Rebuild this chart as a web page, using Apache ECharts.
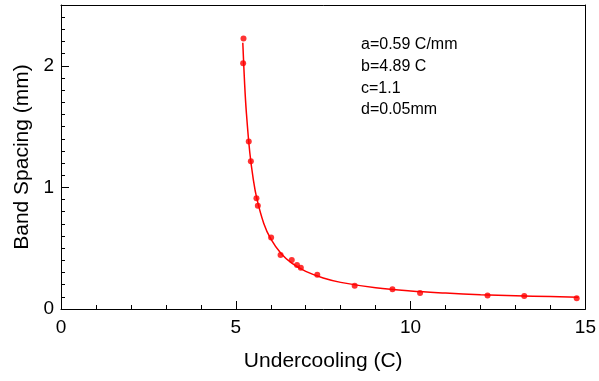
<!DOCTYPE html>
<html><head><meta charset="utf-8">
<script src="https://cdn.jsdelivr.net/npm/echarts@6/dist/echarts.min.js"></script>
<style>html,body{margin:0;padding:0;background:#fff}#c{width:599px;height:381px}</style>
</head><body><div id="c"></div>
<script>
// measured data points (Undercooling C, Band spacing mm)
var pointX = [5.22, 5.21, 5.37, 5.43, 5.59, 5.63, 6.01, 6.28, 6.60, 6.75, 6.86, 7.33, 8.40, 9.48, 10.27, 12.20, 13.25, 14.75];
var pointY = [2.225, 2.02, 1.377, 1.216, 0.911, 0.850, 0.587, 0.444, 0.403, 0.362, 0.340, 0.282, 0.192, 0.162, 0.132, 0.110, 0.107, 0.088];
// fitted curve
var curveX = [5.2, 5.25, 5.3, 5.4, 5.5, 5.6, 5.8, 6.0, 6.3, 6.6, 7.0, 7.5, 8.0, 9.0, 10.0, 11.0, 12.0, 13.0, 14.0, 14.8];
var curveY = [2.19, 1.865, 1.623, 1.287, 1.066, 0.910, 0.704, 0.576, 0.454, 0.377, 0.309, 0.255, 0.219, 0.175, 0.148, 0.131, 0.118, 0.109, 0.102, 0.097];
var annotation = ['a=0.59 C/mm', 'b=4.89 C', 'c=1.1', 'd=0.05mm'];
var xTitle = 'Undercooling (C)';
var yTitle = 'Band Spacing (mm)';

var font = 'Liberation Sans, Arial, sans-serif';
var chart = echarts.init(document.getElementById('c'));
var plainLine = {show: true, onZero: false, lineStyle: {color: '#000', width: 1}};
chart.setOption({
  animation: false,
  backgroundColor: '#fff',
  grid: {left: 61, right: 11, top: 5, bottom: 72},
  xAxis: [{
    type: 'value', min: 0, max: 15, interval: 5,
    name: xTitle, nameLocation: 'middle', nameGap: 42,
    nameTextStyle: {fontFamily: font, fontSize: 21, color: '#000'},
    axisLine: plainLine,
    axisTick: {inside: true, length: 8, lineStyle: {color: '#000'}},
    minorTick: {show: true, splitNumber: 5, length: 4, lineStyle: {color: '#000'}},
    axisLabel: {fontFamily: font, fontSize: 19, color: '#000', margin: 9},
    splitLine: {show: false}
  }, {
    type: 'value', min: 0, max: 15, position: 'top',
    axisLine: plainLine, axisTick: {show: false}, axisLabel: {show: false}, splitLine: {show: false}
  }],
  yAxis: [{
    type: 'value', min: 0, max: 2.5, interval: 1,
    name: yTitle, nameLocation: 'middle', nameGap: 27,
    nameTextStyle: {fontFamily: font, fontSize: 21, color: '#000'},
    axisLine: plainLine,
    axisTick: {inside: true, length: 8, lineStyle: {color: '#000'}},
    axisLabel: {fontFamily: font, fontSize: 19, color: '#000', margin: 7, showMaxLabel: false},
    splitLine: {show: false}
  }, {
    type: 'value', min: 0, max: 2.5, interval: 0.1, position: 'left',
    axisLine: {show: false},
    axisTick: {inside: true, length: 4, lineStyle: {color: '#000'}},
    axisLabel: {show: false},
    splitLine: {show: false}
  }, {
    type: 'value', min: 0, max: 2.5, position: 'right',
    axisLine: plainLine, axisTick: {show: false}, axisLabel: {show: false}, splitLine: {show: false}
  }],
  graphic: [{
    type: 'text', left: 361, top: 34,
    style: {text: annotation.join('\n'), font: '16px ' + font, fill: '#000', lineHeight: 21.7}
  }],
  series: [{
    type: 'line', yAxisIndex: 0,
    data: curveX.map(function (x, i) { return [x, curveY[i]]; }),
    smooth: 0.4, showSymbol: false, symbol: 'none',
    lineStyle: {color: '#ff0000', width: 1.5}
  }, {
    type: 'scatter', yAxisIndex: 0,
    data: pointX.map(function (x, i) { return [x, pointY[i]]; }),
    symbolSize: 6, itemStyle: {color: '#ff0000'}
  }]
});
</script></body></html>
